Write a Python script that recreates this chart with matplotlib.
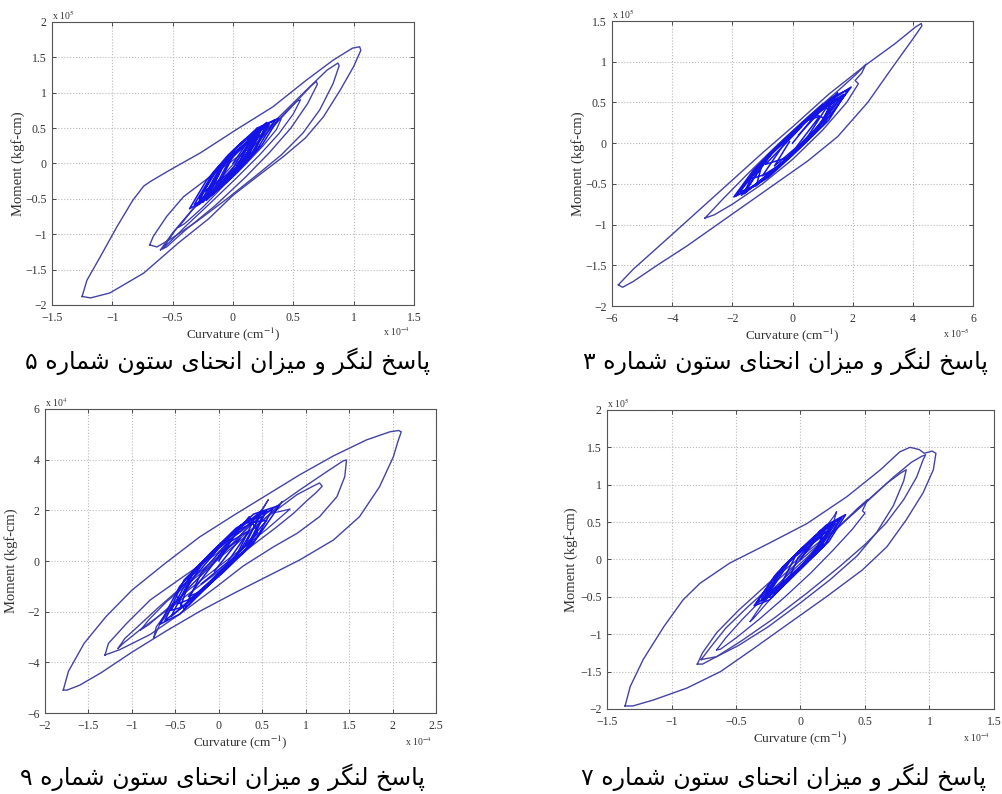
import matplotlib
matplotlib.use('Agg')
import matplotlib.pyplot as plt
from matplotlib.ticker import FuncFormatter

plt.rcParams['font.family'] = ['Liberation Serif', 'DejaVu Serif']
plt.rcParams['mathtext.fontset'] = 'stix'

# ---- column 5 (curvature x1e-4, moment x1e5)
p5_outer_x = [-1.25, -1.21, -1.10, -0.96, -0.83, -0.74, -0.68, -0.52, -0.27, 0.02, 0.33, 0.61, 0.83, 0.99, 1.05,
              1.06, 1.00, 0.89, 0.75, 0.60, 0.42, 0.22, 0.00, -0.20, -0.45, -0.74, -1.02, -1.18, -1.25]
p5_outer_y = [-1.88, -1.65, -1.32, -0.89, -0.52, -0.32, -0.25, -0.09, 0.15, 0.47, 0.80, 1.18, 1.46, 1.63, 1.65,
              1.60, 1.37, 1.04, 0.66, 0.36, 0.10, -0.16, -0.45, -0.78, -1.12, -1.55, -1.83, -1.90, -1.88]
p5_l2_x = [-0.69, -0.66, -0.55, -0.41, -0.20, 0.06, 0.33, 0.61, 0.78, 0.87, 0.88, 0.83, 0.72, 0.58, 0.40, 0.20,
           -0.05, -0.30, -0.50, -0.63, -0.69]
p5_l2_y = [-1.15, -1.03, -0.75, -0.47, -0.20, 0.12, 0.57, 1.04, 1.32, 1.42, 1.38, 1.13, 0.76, 0.43, 0.12, -0.16,
           -0.50, -0.82, -1.05, -1.18, -1.15]
p5_l3_x = [-0.60, -0.50, -0.35, -0.15, 0.10, 0.35, 0.55, 0.65, 0.69, 0.70, 0.62, 0.48, 0.30, 0.10, -0.15, -0.40,
           -0.55, -0.60]
p5_l3_y = [-1.22, -0.98, -0.68, -0.33, 0.12, 0.55, 0.92, 1.10, 1.16, 1.12, 0.85, 0.50, 0.15, -0.20, -0.60, -0.95,
           -1.18, -1.22]
p5_l4_x = [-0.58, -0.48, -0.32, -0.12, 0.10, 0.30, 0.45, 0.53, 0.56, 0.50, 0.38, 0.22, 0.02, -0.20, -0.40, -0.53, -0.58]
p5_l4_y = [-1.20, -0.95, -0.62, -0.28, 0.12, 0.48, 0.75, 0.88, 0.90, 0.70, 0.42, 0.12, -0.22, -0.58, -0.90, -1.12, -1.20]
p5_l5_x = [-0.45, -0.32, -0.15, 0.05, 0.22, 0.35, 0.40, 0.36, 0.25, 0.10, -0.08, -0.25, -0.40, -0.45]
p5_l5_y = [-0.90, -0.62, -0.30, 0.08, 0.38, 0.58, 0.63, 0.48, 0.25, -0.02, -0.32, -0.62, -0.85, -0.90]
p5_core_x = [0.00, 0.18, 0.35, 0.20, 0.00, -0.18, -0.32, -0.18, 0.00, 0.15, 0.30, 0.16, -0.04, -0.20, -0.36, -0.22,
             -0.04, 0.20, 0.38, 0.24, 0.04, -0.14, -0.28, -0.12, 0.06, 0.24, 0.12, -0.08, -0.30, -0.16, 0.04, 0.28,
             0.18, 0.00, -0.22, -0.10, 0.10, 0.22, 0.08, -0.12, -0.04, 0.12]
p5_core_y = [0.00, 0.45, 0.62, 0.20, -0.18, -0.45, -0.58, -0.18, 0.18, 0.40, 0.55, 0.13, -0.24, -0.48, -0.64, -0.24,
             0.12, 0.50, 0.64, 0.26, -0.12, -0.40, -0.50, -0.06, 0.28, 0.52, 0.06, -0.30, -0.60, -0.12, 0.24, 0.58,
             0.18, -0.16, -0.52, -0.02, 0.34, 0.40, 0.00, -0.34, 0.02, 0.30]
p5_core2_x = [0.05, 0.20, 0.10, -0.20, -0.08, 0.26, 0.12, -0.25, -0.10, 0.22, 0.05, -0.15, 0.00, 0.30, 0.16, -0.28,
              -0.12, 0.18, 0.02, -0.22, -0.05, 0.24, 0.08, -0.18, -0.02, 0.14, -0.02, -0.24]
p5_core2_y = [0.00, 0.50, 0.05, -0.45, -0.02, 0.55, 0.12, -0.55, -0.05, 0.48, -0.05, -0.40, 0.10, 0.58, 0.16, -0.58,
              -0.10, 0.42, -0.08, -0.48, 0.05, 0.50, 0.02, -0.44, 0.08, 0.32, -0.12, -0.40]

# ---- column 3 (curvature x1e-5, moment x1e5)
p3_outer_x = [-5.79, -5.30, -4.00, -2.50, -1.00, 0.00, 1.20, 2.47, 3.40, 4.10, 4.28, 4.30, 4.00, 3.30, 2.50, 1.50,
              0.50, -0.50, -1.50, -2.50, -3.50, -4.50, -5.30, -5.65, -5.79]
p3_outer_y = [-1.74, -1.55, -1.12, -0.62, -0.12, 0.20, 0.60, 0.97, 1.22, 1.43, 1.47, 1.44, 1.28, 0.92, 0.50, 0.08,
              -0.22, -0.48, -0.74, -1.00, -1.26, -1.50, -1.70, -1.77, -1.74]
p3_l2_x = [-2.91, -2.30, -1.50, -0.50, 0.50, 1.50, 2.10, 2.44, 2.30, 2.08, 2.19, 1.80, 1.00, 0.00, -1.00, -2.00,
           -2.60, -2.91]
p3_l2_y = [-0.92, -0.68, -0.38, -0.02, 0.32, 0.64, 0.84, 0.97, 0.86, 0.77, 0.73, 0.50, 0.16, -0.20, -0.50, -0.75,
           -0.88, -0.92]
p3_core_x = [0.0, 1.0, 1.95, 1.0, 0.0, -1.0, -1.9, -1.0, 0.0, 1.0, 1.7, 0.8, -0.2, -1.2, -1.75, -0.8, 0.3, 1.3, 1.85,
             1.2, 0.2, -0.8, -1.6, -1.2, -0.2, 0.8, 1.5, 0.6, -0.5, -1.5, -1.95, -1.3, -0.3, 0.6, 1.2, 0.4, -0.4,
             -1.0, -0.3, 0.5, 0.9, 0.1, -0.6, -0.1]
p3_core_y = [0.00, 0.46, 0.69, 0.22, -0.14, -0.46, -0.65, -0.22, 0.13, 0.44, 0.60, 0.16, -0.20, -0.52, -0.60, -0.14,
             0.24, 0.56, 0.66, 0.28, -0.08, -0.42, -0.60, -0.30, 0.06, 0.38, 0.55, 0.08, -0.30, -0.58, -0.66, -0.33,
             0.04, 0.34, 0.48, 0.02, -0.26, -0.40, -0.02, 0.28, 0.33, -0.06, -0.28, 0.02]
p3_core2_x = [0.2, 1.5, 0.9, -0.3, -1.6, -0.9, 0.4, 1.6, 0.6, -0.7, -1.4, -0.3, 1.0, 1.3, 0.0, -1.2, -1.0, 0.2, 1.4,
              0.9, -0.5, -1.7, -0.6, 0.7, 1.1, -0.2, -0.9, 0.3]
p3_core2_y = [0.10, 0.62, 0.22, -0.22, -0.62, -0.20, 0.26, 0.56, 0.10, -0.36, -0.44, 0.04, 0.48, 0.36, -0.12, -0.52,
              -0.24, 0.18, 0.58, 0.20, -0.30, -0.64, -0.08, 0.36, 0.30, -0.18, -0.26, 0.20]

# ---- column 9 (curvature x1e-4, moment x1e4)
p9_outer_x = [-1.79, -1.73, -1.55, -1.30, -1.00, -0.62, -0.22, 0.17, 0.55, 0.93, 1.32, 1.70, 1.97, 2.07, 2.10,
              2.06, 2.01, 1.85, 1.62, 1.32, 0.93, 0.55, 0.17, -0.20, -0.60, -1.00, -1.35, -1.60, -1.75, -1.79]
p9_outer_y = [-5.09, -4.35, -3.25, -2.20, -1.15, -0.10, 0.95, 1.80, 2.60, 3.40, 4.15, 4.78, 5.10, 5.15, 5.10,
              4.70, 4.12, 2.93, 1.75, 0.83, 0.04, -0.62, -1.28, -1.95, -2.75, -3.60, -4.40, -4.90, -5.10, -5.09]
p9_l2_x = [-1.31, -1.27, -1.06, -0.79, -0.41, -0.02, 0.17, 0.55, 0.93, 1.24, 1.43, 1.47, 1.45, 1.36, 1.16, 0.90,
           0.63, 0.28, -0.02, -0.41, -0.79, -1.14, -1.31]
p9_l2_y = [-3.71, -3.25, -2.46, -1.54, -0.62, 0.30, 0.95, 1.88, 2.80, 3.52, 3.95, 3.99, 3.33, 2.54, 1.75, 1.09,
           0.56, -0.20, -1.00, -2.00, -2.90, -3.50, -3.71]
p9_l3_x = [-1.16, -1.08, -0.92, -0.70, -0.40, -0.05, 0.30, 0.62, 0.90, 1.10, 1.16, 1.19, 1.12, 1.02, 0.86, 0.65,
           0.40, 0.10, -0.25, -0.60, -0.92, -1.10, -1.16]
p9_l3_y = [-3.45, -3.05, -2.55, -1.85, -0.95, 0.05, 1.05, 1.90, 2.62, 2.98, 3.08, 2.95, 2.70, 2.40, 1.88, 1.30,
           0.65, -0.15, -1.05, -1.95, -2.75, -3.25, -3.45]
p9_l4_x = [-0.90, -0.80, -0.60, -0.30, 0.00, 0.30, 0.55, 0.70, 0.73, 0.62, 0.70, 0.82, 0.55, 0.25, -0.05, -0.35,
           -0.60, -0.80, -0.90]
p9_l4_y = [-2.72, -2.30, -1.60, -0.75, 0.10, 0.95, 1.75, 2.20, 2.35, 1.90, 1.95, 2.05, 1.25, 0.45, -0.35, -1.15,
           -1.90, -2.50, -2.72]
p9_l5_x = [-0.75, -0.72, -0.55, -0.30, 0.00, 0.30, 0.50, 0.57, 0.45, 0.22, -0.05, -0.30, -0.52, -0.68, -0.75]
p9_l5_y = [-3.05, -2.60, -1.80, -0.90, 0.10, 1.20, 2.05, 2.42, 1.70, 0.90, 0.00, -0.90, -1.75, -2.50, -3.05]
p9_core_x = [0.00, 0.25, 0.62, 0.40, 0.05, -0.30, -0.62, -0.40, -0.05, 0.30, 0.50, 0.30, -0.05, -0.35, -0.55, -0.30,
             0.05, 0.40, 0.70, 0.45, 0.10, -0.25, -0.48, -0.20, 0.15, 0.45, 0.20, -0.15, -0.45, -0.68, -0.45, -0.10,
             0.20, 0.55, 0.35, 0.00, -0.35, -0.20, 0.10, 0.35, 0.10, -0.20]
p9_core_y = [0.00, 1.40, 2.05, 0.70, -0.45, -1.50, -2.35, -0.75, 0.45, 1.55, 1.75, 0.40, -0.70, -1.75, -1.95, -0.40,
             0.75, 1.85, 2.20, 0.95, -0.25, -1.40, -1.70, -0.15, 1.10, 1.60, 0.15, -1.05, -2.10, -2.50, -1.00, 0.30,
             1.30, 2.00, 0.60, -0.55, -1.55, -0.45, 0.70, 1.20, -0.05, -0.90]
p9_core2_x = [0.00, 0.35, 0.45, 0.00, -0.40, -0.50, -0.10, 0.30, 0.55, 0.15, -0.25, -0.55, -0.30, 0.10, 0.50, 0.30,
              -0.10, -0.45, -0.35, 0.00, 0.40, 0.20, -0.20, -0.35, 0.05, 0.25, -0.05]
p9_core2_y = [0.20, 1.75, 1.10, -0.50, -1.90, -1.30, 0.20, 1.50, 1.60, 0.00, -1.30, -2.20, -0.50, 0.90, 2.00, 0.60,
              -0.80, -1.90, -0.90, 0.50, 1.60, 0.20, -1.20, -1.40, 0.40, 0.90, -0.40]

# ---- column 7 (curvature x1e-4, moment x1e5)
p7_outer_x = [-1.36, -1.32, -1.22, -1.06, -0.91, -0.78, -0.55, -0.24, 0.05, 0.36, 0.62, 0.77, 0.85, 0.92, 0.96,
              1.02, 1.05, 1.03, 0.95, 0.82, 0.67, 0.48, 0.20, -0.11, -0.37, -0.62, -0.88, -1.14, -1.30, -1.36]
p7_outer_y = [-1.96, -1.70, -1.34, -0.90, -0.54, -0.32, -0.05, 0.22, 0.48, 0.84, 1.20, 1.44, 1.50, 1.47, 1.42,
              1.45, 1.42, 1.20, 0.89, 0.53, 0.17, -0.14, -0.50, -0.88, -1.20, -1.50, -1.72, -1.88, -1.96, -1.96]
p7_l2_x = [-0.80, -0.76, -0.65, -0.48, -0.25, 0.02, 0.28, 0.52, 0.72, 0.86, 0.94, 0.97, 0.95, 0.90, 0.80, 0.66,
           0.50, 0.30, 0.05, -0.20, -0.45, -0.65, -0.76, -0.80]
p7_l2_y = [-1.40, -1.25, -0.98, -0.68, -0.32, 0.06, 0.42, 0.78, 1.10, 1.30, 1.38, 1.40, 1.33, 1.10, 0.80, 0.48,
           0.20, -0.10, -0.45, -0.78, -1.08, -1.30, -1.40, -1.40]
p7_l3_x = [-0.77, -0.70, -0.58, -0.40, -0.18, 0.06, 0.30, 0.50, 0.67, 0.78, 0.82, 0.80, 0.72, 0.59, 0.44, 0.23,
           0.00, -0.25, -0.48, -0.65, -0.77]
p7_l3_y = [-1.34, -1.18, -0.92, -0.62, -0.28, 0.08, 0.44, 0.76, 1.02, 1.16, 1.20, 1.05, 0.72, 0.36, 0.05, -0.27,
           -0.58, -0.90, -1.15, -1.30, -1.34]
p7_l4_x = [-0.65, -0.58, -0.45, -0.28, -0.08, 0.12, 0.30, 0.44, 0.52, 0.48, 0.50, 0.40, 0.25, 0.08, -0.12, -0.32,
           -0.50, -0.62, -0.65]
p7_l4_y = [-1.21, -1.05, -0.80, -0.50, -0.18, 0.14, 0.44, 0.68, 0.80, 0.65, 0.62, 0.40, 0.12, -0.18, -0.50, -0.80,
           -1.05, -1.20, -1.21]
p7_l5_x = [-0.39, -0.30, -0.15, 0.02, 0.16, 0.26, 0.28, 0.25, 0.15, 0.02, -0.14, -0.28, -0.37, -0.39]
p7_l5_y = [-0.83, -0.60, -0.30, 0.05, 0.35, 0.58, 0.64, 0.46, 0.22, -0.05, -0.35, -0.62, -0.80, -0.83]
p7_core_x = [0.00, 0.15, 0.32, 0.18, 0.00, -0.18, -0.34, -0.18, 0.00, 0.14, 0.27, 0.12, -0.05, -0.22, -0.30, -0.14,
             0.04, 0.20, 0.35, 0.22, 0.04, -0.14, -0.26, -0.10, 0.08, 0.24, 0.14, -0.02, -0.24, -0.36, -0.20, -0.02,
             0.12, 0.22, 0.08, -0.10, -0.02, 0.10]
p7_core_y = [0.00, 0.38, 0.56, 0.18, -0.13, -0.42, -0.58, -0.18, 0.13, 0.34, 0.48, 0.08, -0.20, -0.50, -0.52, -0.12,
             0.20, 0.46, 0.60, 0.24, -0.06, -0.36, -0.46, -0.04, 0.26, 0.48, 0.12, -0.16, -0.54, -0.62, -0.22, 0.10,
             0.32, 0.36, 0.02, -0.30, 0.02, 0.24]
p7_core2_x = [0.02, 0.20, 0.12, -0.10, -0.28, -0.16, 0.08, 0.26, 0.16, -0.06, -0.24, -0.08, 0.12, 0.30, 0.20, -0.02,
              -0.30, -0.14, 0.06, 0.22, 0.06, -0.16, -0.04, 0.16]
p7_core2_y = [0.05, 0.44, 0.12, -0.28, -0.55, -0.16, 0.26, 0.50, 0.16, -0.22, -0.44, -0.02, 0.32, 0.54, 0.22, -0.12,
              -0.56, -0.10, 0.20, 0.40, 0.00, -0.36, 0.04, 0.30]

captions = ['پاسخ لنگر و میزان انحنای ستون شماره ۵',
            'پاسخ لنگر و میزان انحنای ستون شماره ۳',
            'پاسخ لنگر و میزان انحنای ستون شماره ۹',
            'پاسخ لنگر و میزان انحنای ستون شماره ۷']

# presentation forms: isolated, final, (initial, medial)
forms = {
    '\u0627': ('\uFE8D', '\uFE8E'),
    '\u0631': ('\uFEAD', '\uFEAE'),
    '\u0632': ('\uFEAF', '\uFEB0'),
    '\u0648': ('\uFEED', '\uFEEE'),
    '\u067E': ('\uFB56', '\uFB57', '\uFB58', '\uFB59'),
    '\u0633': ('\uFEB1', '\uFEB2', '\uFEB3', '\uFEB4'),
    '\u062E': ('\uFEA5', '\uFEA6', '\uFEA7', '\uFEA8'),
    '\u0644': ('\uFEDD', '\uFEDE', '\uFEDF', '\uFEE0'),
    '\u0646': ('\uFEE5', '\uFEE6', '\uFEE7', '\uFEE8'),
    '\u06AF': ('\uFB92', '\uFB93', '\uFB94', '\uFB95'),
    '\u0645': ('\uFEE1', '\uFEE2', '\uFEE3', '\uFEE4'),
    '\u06CC': ('\uFBFC', '\uFBFD', '\uFBFE', '\uFBFF'),
    '\u064A': ('\uFEF1', '\uFEF2', '\uFEF3', '\uFEF4'),
    '\u062D': ('\uFEA1', '\uFEA2', '\uFEA3', '\uFEA4'),
    '\u062A': ('\uFE95', '\uFE96', '\uFE97', '\uFE98'),
    '\u0634': ('\uFEB5', '\uFEB6', '\uFEB7', '\uFEB8'),
    '\u0647': ('\uFEE9', '\uFEEA', '\uFEEB', '\uFEEC'),
}


def shape_rtl(text):
    out = []
    for i, ch in enumerate(text):
        f = forms.get(ch)
        if f is None:
            out.append(ch)
            continue
        prev = text[i - 1] if i > 0 else ''
        nxt = text[i + 1] if i + 1 < len(text) else ''
        jp = prev in forms and len(forms[prev]) == 4
        jn = len(f) == 4 and nxt in forms
        if jp and jn:
            out.append(f[3])
        elif jp:
            out.append(f[1])
        elif jn:
            out.append(f[2])
        else:
            out.append(f[0])
    return ''.join(reversed(out))


fmt = FuncFormatter(lambda v, p: ('%g' % round(v, 6)).replace('-', '\u2212') if abs(v) > 1e-9 else '0')

outer_c = '#4343a6'
inner_c = '#3434bc'
core_c = '#1414e6'

panels = [
    dict(pos=[0.0518, 0.6159, 0.3609, 0.3564], xlim=(-1.5, 1.5), ylim=(-2, 2),
         xt=[-1.5, -1, -0.5, 0, 0.5, 1, 1.5], yt=[-2, -1.5, -1, -0.5, 0, 0.5, 1, 1.5, 2],
         xexp='x 10$^{-4}$', yexp='x 10$^{5}$', cap=(0.2265, 0.545), ylx=-0.075,
         outer=[(p5_outer_x, p5_outer_y), (p5_l2_x, p5_l2_y), (p5_l3_x, p5_l3_y)],
         inner=[(p5_l4_x, p5_l4_y), (p5_l5_x, p5_l5_y)],
         core=[(p5_core_x, p5_core_y), (p5_core2_x, p5_core2_y)]),
    dict(pos=[0.6102, 0.6146, 0.3599, 0.3589], xlim=(-6, 6), ylim=(-2, 1.5),
         xt=[-6, -4, -2, 0, 2, 4, 6], yt=[-2, -1.5, -1, -0.5, 0, 0.5, 1, 1.5],
         xexp='x 10$^{-5}$', yexp='x 10$^{5}$', cap=(0.7827, 0.545), ylx=-0.075,
         outer=[(p3_outer_x, p3_outer_y), (p3_l2_x, p3_l2_y)],
         inner=[], core=[(p3_core_x, p3_core_y), (p3_core2_x, p3_core2_y)]),
    dict(pos=[0.0449, 0.1020, 0.3898, 0.3829], xlim=(-2, 2.5), ylim=(-6, 6),
         xt=[-2, -1.5, -1, -0.5, 0, 0.5, 1, 1.5, 2, 2.5], yt=[-6, -4, -2, 0, 2, 4, 6],
         xexp='x 10$^{-4}$', yexp='x 10$^{4}$', cap=(0.2216, 0.0214), ylx=-0.070,
         outer=[(p9_outer_x, p9_outer_y), (p9_l2_x, p9_l2_y), (p9_l3_x, p9_l3_y)],
         inner=[(p9_l4_x, p9_l4_y), (p9_l5_x, p9_l5_y)],
         core=[(p9_core_x, p9_core_y), (p9_core2_x, p9_core2_y)]),
    dict(pos=[0.6052, 0.1071, 0.3858, 0.3766], xlim=(-1.5, 1.5), ylim=(-2, 2),
         xt=[-1.5, -1, -0.5, 0, 0.5, 1, 1.5], yt=[-2, -1.5, -1, -0.5, 0, 0.5, 1, 1.5, 2],
         xexp='x 10$^{-4}$', yexp='x 10$^{5}$', cap=(0.7817, 0.0214), ylx=-0.075,
         outer=[(p7_outer_x, p7_outer_y), (p7_l2_x, p7_l2_y), (p7_l3_x, p7_l3_y)],
         inner=[(p7_l4_x, p7_l4_y), (p7_l5_x, p7_l5_y)],
         core=[(p7_core_x, p7_core_y), (p7_core2_x, p7_core2_y)]),
]

fig = plt.figure(figsize=(10.03, 7.94), dpi=100)

for k, p in enumerate(panels):
    ax = fig.add_axes(p['pos'])
    for x, y in p['outer']:
        ax.plot(x, y, color=outer_c, lw=1.0)
    for x, y in p['inner']:
        ax.plot(x, y, color=inner_c, lw=0.9)
    for x, y in p['core']:
        ax.plot(x, y, color=core_c, lw=1.1)
    ax.set_xlim(*p['xlim'])
    ax.set_ylim(*p['ylim'])
    ax.set_xticks(p['xt'])
    ax.set_yticks(p['yt'])
    ax.xaxis.set_major_formatter(fmt)
    ax.yaxis.set_major_formatter(fmt)
    ax.grid(True, ls=':', color='#b8b8b8', lw=0.8)
    ax.tick_params(direction='in', top=True, right=True, length=3, width=0.6,
                   labelsize=8.5, colors='#333333')
    ax.tick_params(axis='x', pad=5)
    ax.tick_params(axis='y', pad=4)
    for s in ax.spines.values():
        s.set_color('#555555')
        s.set_linewidth(0.8)
    ax.set_xlabel('Curvature (cm$^{-1}$)', fontsize=9.5, color='#333333', labelpad=1)
    ax.set_ylabel('Moment (kgf-cm)', fontsize=10.5, color='#333333')
    ax.yaxis.set_label_coords(p['ylx'], 0.5)
    ax.text(0.0, 1.0, p['yexp'], transform=ax.transAxes, ha='left', va='bottom', fontsize=7, color='#333333')
    ax.text(0.99, -0.095, p['xexp'], transform=ax.transAxes, ha='right', va='center', fontsize=7, color='#333333')
    fig.text(p['cap'][0], p['cap'][1], shape_rtl(captions[k]), ha='center', va='center',
             fontsize=17, family='DejaVu Sans', color='black')

fig.savefig('out.png', dpi=100)
